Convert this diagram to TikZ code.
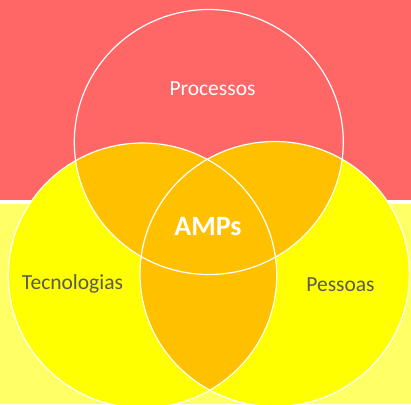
\documentclass[tikz,border=0pt]{standalone}
\usepackage{fontspec}
\setmainfont{Carlito}
\definecolor{bgpink}{HTML}{FF6666}
\definecolor{bgyel}{HTML}{FFFF66}
\definecolor{cyel}{HTML}{FFFF00}
\definecolor{corange}{HTML}{FFC000}
\definecolor{txtgray}{HTML}{595959}
\begin{document}
\begin{tikzpicture}[x=1pt,y=-1pt,
  ring/.style={draw=white,line width=1.2pt},
  lbl/.style={font=\fontsize{21.5}{24}\selectfont,inner sep=0pt},
  big/.style={font=\fontsize{28}{32}\selectfont\bfseries,text=white,inner sep=0pt}]
\useasboundingbox (0,0) rectangle (411,404);
\fill[bgpink] (0,0) rectangle (411,200);
\fill[white] (0,200) rectangle (411,204);
\fill[bgyel] (0,204) rectangle (411,404);
% circles
\def\topC{(208.8,142) ellipse [x radius=134.5,y radius=132.5]}
\def\leftC{(142.5,275.5) ellipse [x radius=134.2,y radius=132.5]}
\def\rightC{(274.7,274) ellipse [x radius=134.7,y radius=132.5]}
\fill[cyel] \leftC;
\fill[cyel] \rightC;
\begin{scope}
  \clip \topC;
  \fill[corange] \leftC;
  \fill[corange] \rightC;
\end{scope}
\begin{scope}
  \clip \leftC;
  \fill[corange] \rightC;
\end{scope}
\draw[ring] \topC;
\draw[ring] \leftC;
\draw[ring] \rightC;
% labels
\node[lbl,text=white] (proc) at (212.5,89) {Processos};
\node[big] (amps) at (208,227) {AMPs};
\node[lbl,text=txtgray] (tec) at (72.5,284) {Tecnologias};
\node[lbl,text=txtgray] (pes) at (340.5,285) {Pessoas};
\end{tikzpicture}
\end{document}
